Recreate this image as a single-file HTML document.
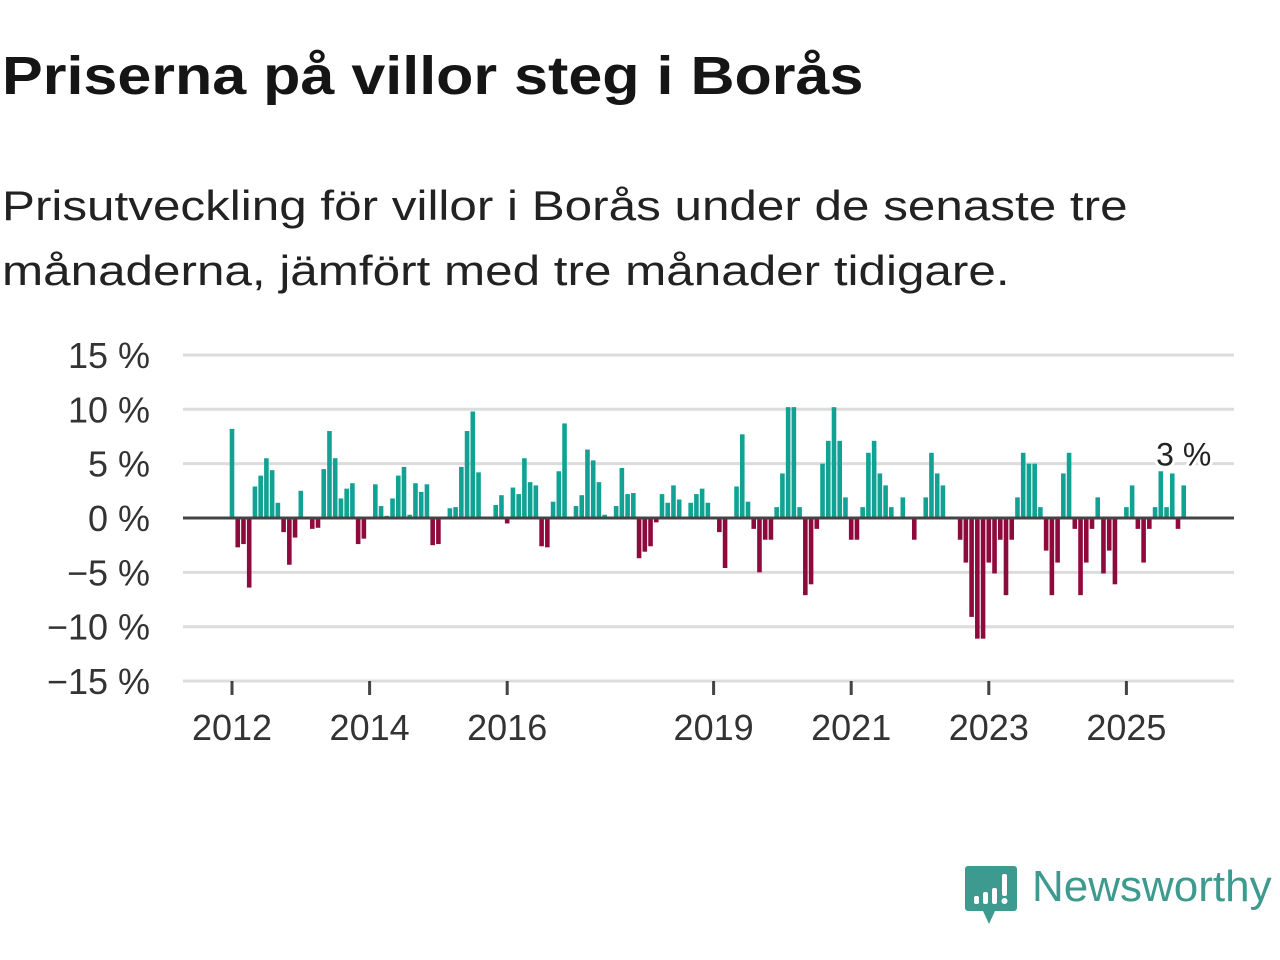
<!DOCTYPE html>
<html><head><meta charset="utf-8">
<style>
body{margin:0;width:1280px;height:960px;background:#fff;overflow:hidden;font-family:"Liberation Sans",sans-serif;}
#title{position:absolute;left:2px;top:45px;font-size:54px;font-weight:bold;color:#151515;margin:0;white-space:nowrap;transform:scaleX(1.13);transform-origin:0 0;}
#sub{position:absolute;left:2px;top:173px;font-size:42px;line-height:65px;color:#222;margin:0;white-space:nowrap;transform:scaleX(1.176);transform-origin:0 0;}
svg{position:absolute;left:0;top:0;}
</style></head><body>
<h1 id="title">Priserna på villor steg i Borås</h1>
<p id="sub">Prisutveckling för villor i Borås under de senaste tre<br>månaderna, jämfört med tre månader tidigare.</p>
<svg id="chart" width="1280" height="960"></svg>
<script>
const startYear = 2012;
const values = [8.2,-2.7,-2.4,-6.4,2.9,3.9,5.5,4.4,1.4,-1.3,-4.3,-1.8,2.5,0,-1.0,-0.9,4.5,8.0,5.5,1.8,2.7,3.2,-2.4,-1.9,
0,3.1,1.1,0.2,1.8,3.9,4.7,0.3,3.2,2.4,3.1,-2.5,-2.4,0,0.9,1.0,4.7,8.0,9.8,4.2,0,0,1.2,2.1,
-0.5,2.8,2.2,5.5,3.3,3.0,-2.6,-2.7,1.5,4.3,8.7,0,1.1,2.1,6.3,5.3,3.3,0.3,0,1.1,4.6,2.2,2.3,-3.7,
-3.1,-2.6,-0.4,2.2,1.4,3.0,1.7,0,1.4,2.2,2.7,1.4,0,-1.3,-4.6,0,2.9,7.7,1.5,-1.0,-5.0,-2.0,-2.0,1.0,
4.1,10.2,10.2,1.0,-7.1,-6.1,-1.0,5.0,7.1,10.2,7.1,1.9,-2.0,-2.0,1.0,6.0,7.1,4.1,3.0,1.0,0,1.9,0,-2.0,
0,1.9,6.0,4.1,3.0,0,0,-2.0,-4.1,-9.1,-11.1,-11.1,-4.1,-5.1,-2.0,-7.1,-2.0,1.9,6.0,5.0,5.0,1.0,
-3.0,-7.1,-4.1,4.1,6.0,-1.0,-7.1,-4.1,-1.0,1.9,-5.1,-3.0,-6.1,0,1.0,3.0,-1.0,-4.1,-1.0,1.0,4.3,1.0,4.1,-1.0,3.0];
const yTicks = [15,10,5,0,-5,-10,-15];
const xTickYears = [2012,2014,2016,2019,2021,2023,2025];
const lastLabel = "3 %";

const NS="http://www.w3.org/2000/svg";
const svg=document.getElementById('chart');
const y0px=518, pxPerPct=10.87;
const yS=v=>y0px - v*pxPerPct;
const x2012=232, pxPerYear=68.8;
const xS=m=>x2012 + m*pxPerYear/12;
function mk(t,a,parent){const e=document.createElementNS(NS,t);for(const k in a)e.setAttribute(k,a[k]);(parent||svg).appendChild(e);return e;}
yTicks.forEach(t=>{
  if(t!==0){const g=mk('line',{x1:183,x2:1234,y1:yS(t),y2:yS(t),stroke:'#dcdcdc','stroke-width':3});
  
  }
  const lb=mk('text',{x:150,y:yS(t)+13,'text-anchor':'end','font-size':36,fill:'#333','font-family':'Liberation Sans, sans-serif'});
  lb.textContent=(t<0?'\u2212'+(-t):t)+' %';
  
  
});
values.forEach((v,i)=>{
  if(v===0)return;
  const x=xS(i);
  const r=mk('rect',{x:x-2.3,width:4.6,y:Math.min(yS(v),y0px),height:Math.abs(yS(v)-y0px),fill:v>0?'#12a294':'#8e0a3c'});
  
  
});
const zl=mk('line',{x1:183,x2:1234,y1:y0px,y2:y0px,stroke:'#444','stroke-width':3});


mk('line',{x1:183,x2:1234,y1:681,y2:681,stroke:'#dcdcdc','stroke-width':3});
xTickYears.forEach(yr=>{
  const x=xS((yr-startYear)*12);
  const tk=mk('line',{x1:x,x2:x,y1:681,y2:695,stroke:'#444','stroke-width':3});
  
  
  const lb=mk('text',{x:x,y:740,'text-anchor':'middle','font-size':36,fill:'#333','font-family':'Liberation Sans, sans-serif'});
  lb.textContent=yr;
  
  
});
const li=values.length-1;
const lt=mk('text',{x:xS(li),y:yS(values[li])-20,'text-anchor':'middle','font-size':32,fill:'#222',stroke:'#fff','stroke-width':6,'paint-order':'stroke','font-family':'Liberation Sans, sans-serif'});
lt.textContent=lastLabel;


</script>
<div style="position:absolute;left:965px;top:866px;">
<svg width="52" height="60" viewBox="0 0 52 60" style="position:static">
<path d="M3 0H49a3 3 0 0 1 3 3V42a3 3 0 0 1-3 3H30L24 58L18 45H3a3 3 0 0 1-3-3V3a3 3 0 0 1 3-3z" fill="#3c9a8f"/>
<rect x="9" y="30" width="5" height="8" rx="2" fill="#fff"/><rect x="18" y="26" width="5" height="12" rx="2" fill="#fff"/><rect x="27" y="22" width="5" height="16" rx="2" fill="#fff"/><rect x="37" y="8" width="5" height="22" rx="2" fill="#fff"/><circle cx="39.5" cy="35" r="3" fill="#fff"/>
</svg>
<span style="position:absolute;left:67px;top:-4px;font-size:44px;color:#3c9a8f;white-space:nowrap;">Newsworthy</span>
</div>
</body></html>
